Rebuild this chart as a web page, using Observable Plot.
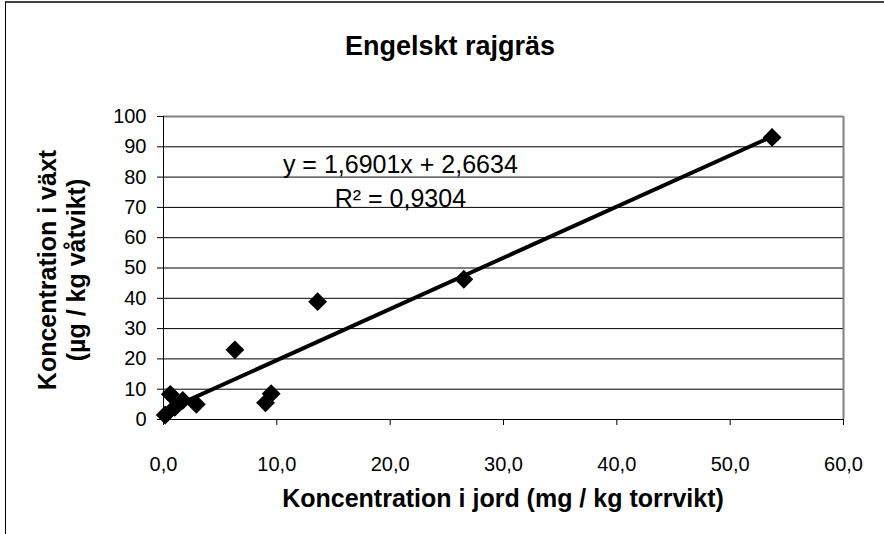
<!DOCTYPE html>
<html><head><meta charset="utf-8">
<script src="https://cdn.jsdelivr.net/npm/d3@7"></script>
<script src="https://cdn.jsdelivr.net/npm/@observablehq/plot@0.6"></script>
<style>
body{margin:0;background:#fff;}
#wrap{position:relative;width:884px;height:534px;overflow:hidden;font-family:"Liberation Sans",Arial,sans-serif;color:#000;}
#border{position:absolute;left:5px;top:1px;width:2000px;height:2000px;border-left:1px solid #000;border-top:2px solid #404040;}
#chart{position:absolute;left:0;top:0;}
.t{position:absolute;white-space:nowrap;font-weight:bold;}
#title{left:5px;width:890px;top:31px;text-align:center;font-size:27px;line-height:30px;}
#xtitle{left:163px;width:680px;top:483px;text-align:center;font-size:25px;line-height:30px;}
#ytitle{left:62px;top:270px;font-size:25px;line-height:29px;text-align:center;transform:translate(-50%,-50%) rotate(-90deg);}
</style></head><body>
<div id="wrap"><div id="border"></div><div id="chart"></div>
<div class="t" id="title">Engelskt rajgräs</div>
<div class="t" id="xtitle">Koncentration i jord (mg / kg torrvikt)</div>
<div class="t" id="ytitle">Koncentration i växt<br>(µg / kg våtvikt)</div>
</div>
<script>
// data
const soilConc  = [0.15, 0.6, 1.0, 1.7, 2.9, 6.3, 9.0, 9.5, 13.6, 26.5, 53.7];
const plantConc = [1.5, 8.3, 4.0, 6.3, 5.0, 23.0, 5.5, 8.5, 38.9, 46.3, 93.1];
const xTicks = [0, 10, 20, 30, 40, 50, 60];
const yTicks = [0, 10, 20, 30, 40, 50, 60, 70, 80, 90, 100];
const trendSlope = 1.6901;
const trendIntercept = 2.6634;
const eqLines = ["y = 1,6901x + 2,6634", "R² = 0,9304"];
const eqX = [20.9, 20.9];
const eqY = [81.5, 70.2];

const pts = soilConc.map((x, i) => ({x, y: plantConc[i]}));
const [xmin, xmax] = d3.extent(soilConc);
const trend = [xmin, xmax].map(x => ({x, y: trendSlope * x + trendIntercept}));
const eq = eqLines.map((t, i) => ({t, x: eqX[i], y: eqY[i]}));
const fmtX = d => d.toFixed(1).replace(".", ",");

const chart = Plot.plot({
  width: 884, height: 534,
  marginLeft: 163, marginRight: 41, marginTop: 116, marginBottom: 115,
  style: {fontFamily: '"Liberation Sans", Arial, sans-serif', background: "transparent", color: "#000"},
  x: {domain: [0, 60]},
  y: {domain: [0, 100]},
  marks: [
    Plot.gridY(yTicks, {stroke: "#000", strokeOpacity: 1, strokeWidth: 1}),
    Plot.ruleY([100], {stroke: "#808080", strokeWidth: 2}),
    Plot.ruleX([60], {stroke: "#808080", strokeWidth: 2}),
    Plot.axisY(yTicks, {tickSize: 6, tickPadding: 11, fontSize: 20, label: null, stroke: "#000"}),
    Plot.axisX(xTicks, {tickSize: 6, tickPadding: 31, fontSize: 20, label: null, tickFormat: fmtX, stroke: "#000"}),
    Plot.ruleX([0], {stroke: "#000", strokeWidth: 1}),
    Plot.ruleY([0], {stroke: "#000", strokeWidth: 1}),
    Plot.line(trend, {x: "x", y: "y", stroke: "#000", strokeWidth: 4}),
    Plot.dot(pts, {x: "x", y: "y", symbol: "diamond2", r: 8.5, fill: "#000", stroke: "none"}),
    Plot.text(eq, {x: "x", y: "y", text: "t", fontSize: 25, lineAnchor: "bottom", textAnchor: "middle", fill: "#000"})
  ]
});
document.getElementById("chart").appendChild(chart);
</script>
</body></html>
